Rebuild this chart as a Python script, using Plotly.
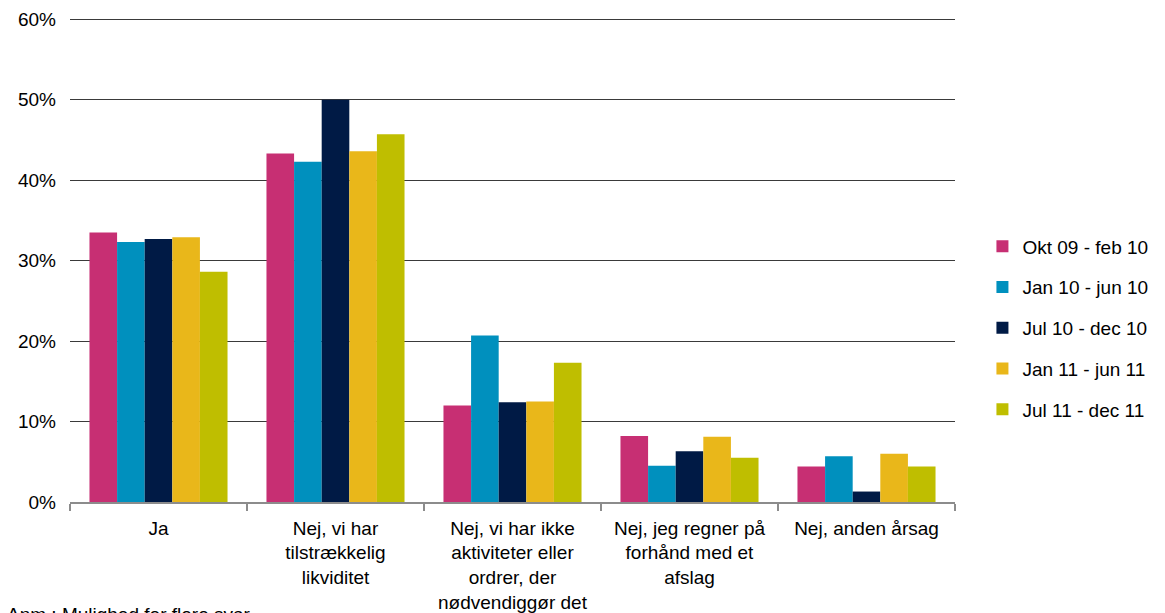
import plotly.graph_objects as go

categories = [
    "Ja",
    "Nej, vi har<br>tilstrækkelig<br>likviditet",
    "Nej, vi har ikke<br>aktiviteter eller<br>ordrer, der<br>nødvendiggør det",
    "Nej, jeg regner på<br>forhånd med et<br>afslag",
    "Nej, anden årsag",
]
series_names = ["Okt 09 - feb 10", "Jan 10 - jun 10", "Jul 10 - dec 10", "Jan 11 - jun 11", "Jul 11 - dec 11"]
okt09_feb10 = [0.335, 0.433, 0.120, 0.082, 0.044]
jan10_jun10 = [0.323, 0.423, 0.207, 0.045, 0.057]
jul10_dec10 = [0.327, 0.500, 0.124, 0.063, 0.013]
jan11_jun11 = [0.329, 0.436, 0.125, 0.081, 0.060]
jul11_dec11 = [0.286, 0.457, 0.173, 0.055, 0.044]
series_values = [okt09_feb10, jan10_jun10, jul10_dec10, jan11_jun11, jul11_dec11]
colors = ["#C72F73", "#0090BE", "#001A45", "#E9B71A", "#BFBE00"]
y_ticks = [0, 0.1, 0.2, 0.3, 0.4, 0.5, 0.6]

fig = go.Figure()
for name, vals, col in zip(series_names, series_values, colors):
    fig.add_trace(go.Bar(x=categories, y=vals, name=name, marker_color=col,
                         marker_line_width=0, legendgroup=name))

font = "Liberation Sans, Arial, sans-serif"
fig.update_layout(
    width=1165, height=613,
    margin=dict(l=62, r=218, t=8, b=119),
    plot_bgcolor="white", paper_bgcolor="white",
    barmode="group", bargap=0.22, bargroupgap=0,
    font=dict(family=font, size=19, color="#000000"),
    legend=dict(x=1.031, y=0.358, xanchor="left", yanchor="middle",
                font=dict(size=19), tracegroupgap=13, itemwidth=30),
    annotations=[dict(text="Anm.: Mulighed for flere svar", x=-0.074, y=-0.205,
                      xref="paper", yref="paper", xanchor="left", yanchor="top",
                      showarrow=False, font=dict(size=19))],
)
fig.update_yaxes(range=[0, 0.604], tickvals=y_ticks, tickformat=".0%",
                 showgrid=True, gridcolor="#3a3a3a", gridwidth=1, automargin=False,
                 zeroline=False, showline=False, ticks="", ticklabelstandoff=13)
fig.update_xaxes(showline=True, linecolor="#8c8c8c", linewidth=1.5, automargin=False,
                 ticks="outside", tickson="boundaries", ticklen=7, tickcolor="#8c8c8c",
                 tickwidth=1.5, tickangle=0, ticklabelstandoff=8)
fig.write_html("out.html")
